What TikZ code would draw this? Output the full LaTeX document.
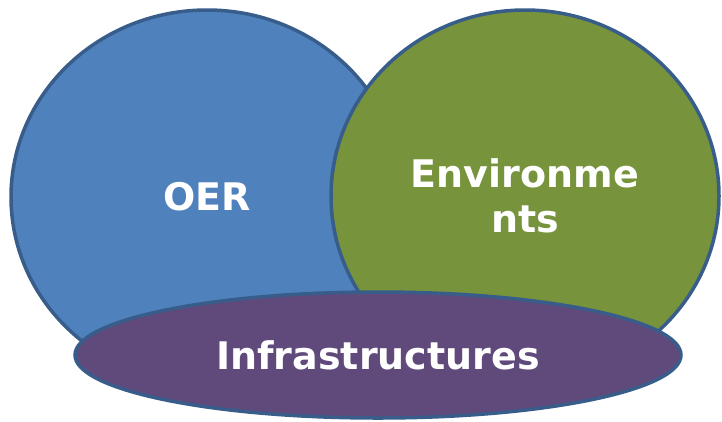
\documentclass[tikz,border=0pt]{standalone}
\usepackage{fontspec}
\setmainfont{DejaVu Sans}
\usetikzlibrary{shapes.geometric}

\definecolor{oerblue}{HTML}{4F81BD}
\definecolor{envgreen}{HTML}{77933C}
\definecolor{infpurple}{HTML}{604A7B}
\definecolor{rimblue}{HTML}{385D8A}

\tikzset{
	set/.style={shape=ellipse,draw=rimblue,line width=3.5pt,inner sep=0pt,
		text=white,align=center,font=\fontsize{38}{45}\selectfont\bfseries}
}

\begin{document}
\begin{tikzpicture}[x=1pt,y=-1pt]
	
	\useasboundingbox (0, 0) rectangle (722, 421);
	
	\node[set,fill=oerblue,minimum width=392,minimum height=374]    (oer) at (207, 197)  {OER};
	\node[set,fill=envgreen,minimum width=388,minimum height=372]   (env) at (525, 196)  {Environme\\nts};
	\node[set,fill=infpurple,minimum width=606,minimum height=126]  (inf) at (378, 355)  {Infrastructures};
	
\end{tikzpicture}
\end{document}
